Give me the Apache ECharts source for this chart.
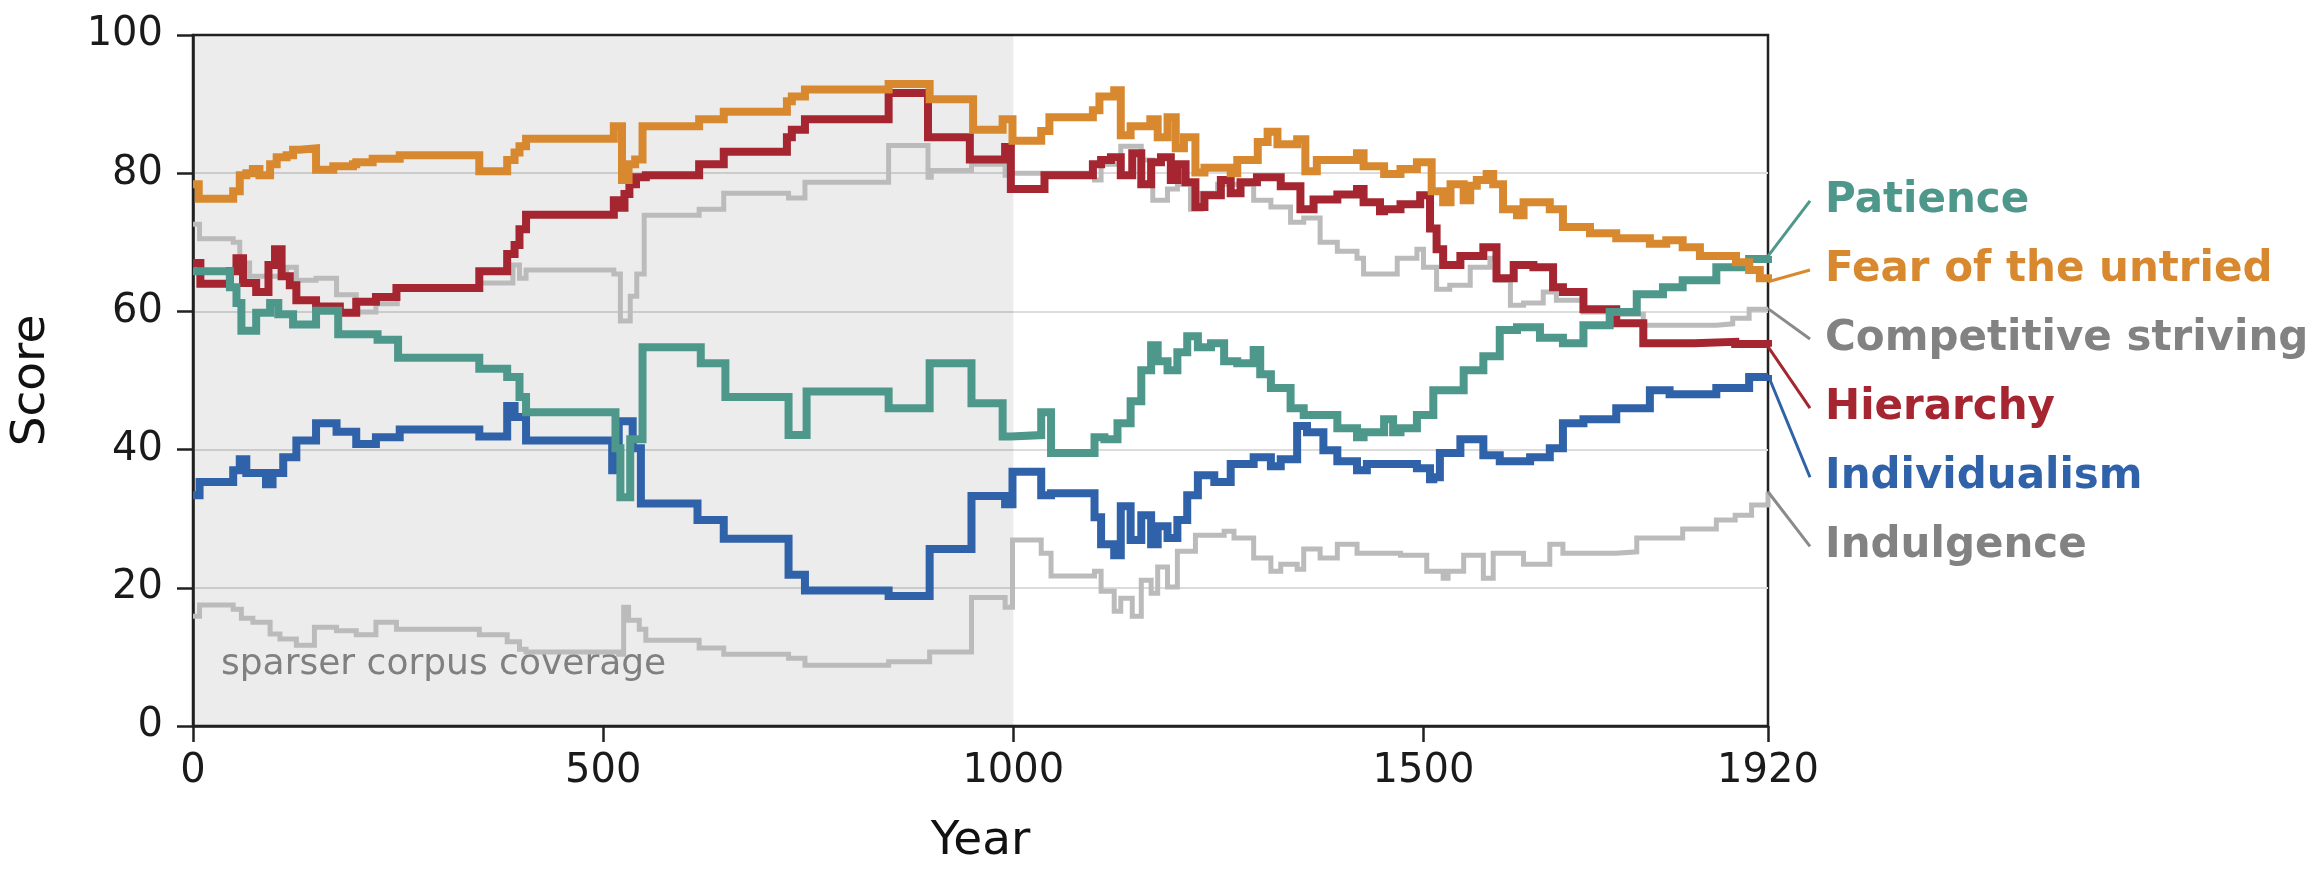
<!DOCTYPE html>
<html>
<head>
<meta charset="utf-8">
<script src="https://cdn.jsdelivr.net/npm/echarts@6.0.0/dist/echarts.min.js"></script>
<style>
  html, body { margin: 0; padding: 0; background: #fff; }
  #chart { width: 2320px; height: 882px; }
</style>
</head>
<body>
<div id="chart"></div>
<script>
// values: [year, score], step held until next point
const fearOfUntried = [
  [0, 78.4], [7, 76.3], [49, 77.4], [57, 79.7], [65, 80], [73, 80.6], [81, 79.7], [94, 81.3],
  [102, 82.3], [114, 82.6], [122, 83.4], [130, 83.6], [150, 80.5], [171, 81], [195, 81.3],
  [199, 81.6], [219, 82.1], [252, 82.6], [349, 80.3], [383, 81.9], [392, 83], [398, 83.9],
  [406, 85], [513, 86.8], [523, 79], [531, 81.3], [539, 82], [548, 86.8], [617, 87.8],
  [647, 88.9], [724, 90.4], [730, 91.1], [746, 92.1], [848, 92.9], [898, 90.7], [951, 86.3],
  [987, 87.8], [999, 84.7], [1034, 86.1], [1044, 88.1], [1097, 89.1], [1105, 91.1],
  [1123, 92], [1131, 85.5], [1143, 86.8], [1167, 87.8], [1176, 85.2], [1188, 88.1],
  [1198, 83.6], [1208, 85.2], [1222, 80.1], [1233, 80.8], [1265, 80], [1273, 81.9],
  [1298, 84.5], [1310, 86], [1322, 84.2], [1346, 84.9], [1356, 80.3], [1370, 81.9],
  [1419, 82.9], [1427, 81], [1452, 79.9], [1472, 80.6], [1492, 81.6], [1510, 77.4],
  [1524, 75.8], [1533, 78.4], [1549, 76.1], [1557, 78.2], [1565, 79], [1577, 79.9],
  [1585, 78.4], [1597, 74.8], [1614, 73.9], [1622, 75.8], [1654, 74.8], [1670, 72.2],
  [1703, 71.3], [1735, 70.6], [1776, 69.8], [1796, 70.3], [1816, 69.3], [1837, 68],
  [1881, 67.1], [1897, 66], [1910, 64.8], [1920, 64.3]
];
const hierarchy = [
  [0, 67], [9, 64], [45, 65.8], [53, 67.7], [61, 64.1], [77, 62.8], [92, 66.7], [100, 69],
  [108, 65.1], [118, 63.8], [126, 61.6], [150, 60.7], [179, 59.8], [199, 61.4], [223, 62.1],
  [248, 63.4], [349, 65.8], [383, 68.3], [392, 69.6], [398, 71.9], [406, 74], [513, 76.1],
  [520, 75], [526, 77], [532, 78.4], [540, 79.4], [552, 79.7], [617, 81.3], [647, 83.1],
  [724, 85.2], [730, 86.3], [746, 87.8], [848, 91.6], [896, 85.2], [947, 82], [990, 83.8],
  [997, 77.7], [1038, 79.7], [1097, 81.3], [1107, 81.9], [1119, 82.3], [1131, 79.7],
  [1145, 82.9], [1156, 78.4], [1168, 81.6], [1180, 82.3], [1192, 79], [1200, 81.3],
  [1210, 78.7], [1222, 75.1], [1233, 76.8], [1253, 79], [1265, 77.1], [1277, 78.7],
  [1297, 79.4], [1326, 78.1], [1350, 74.8], [1366, 76.2], [1395, 76.9], [1419, 77.7],
  [1427, 75.8], [1447, 74.5], [1452, 74.8], [1472, 75.5], [1496, 76.8], [1508, 72],
  [1516, 69], [1524, 66.7], [1545, 68], [1573, 69.3], [1589, 64.8], [1610, 66.7],
  [1634, 66.4], [1658, 63.5], [1670, 62.8], [1695, 60.3], [1735, 58.3], [1768, 55.4],
  [1830, 55.6], [1880, 55.3], [1920, 54.9]
];
const competitiveStriving = [
  [0, 72.6], [8, 70.5], [49, 70], [57, 67], [69, 65.1], [114, 66.4], [126, 64.5], [150, 64.8],
  [175, 62.4], [199, 59.9], [223, 61.1], [249, 63.2], [349, 64.1], [390, 66.7], [398, 64.8],
  [406, 66], [513, 65.4], [521, 58.6], [533, 62.2], [541, 65.4], [550, 73.9], [617, 74.8],
  [647, 77.1], [726, 76.4], [746, 78.7], [848, 84], [896, 79.4], [900, 80.4], [949, 81.3],
  [990, 79.7], [997, 80], [1099, 79], [1107, 81.3], [1131, 83.9], [1156, 81.9], [1170, 76.1],
  [1188, 77.7], [1200, 78.4], [1216, 74.8], [1229, 77.1], [1249, 78.4], [1293, 76.1],
  [1314, 75.1], [1338, 72.9], [1354, 73.5], [1374, 70], [1395, 68.7], [1419, 67.7],
  [1427, 65.4], [1468, 67.7], [1492, 69], [1500, 66.4], [1516, 63.2], [1532, 63.8],
  [1557, 66.4], [1581, 67.7], [1589, 64.5], [1606, 60.9], [1622, 61.2], [1646, 62.8],
  [1662, 61.6], [1695, 59.9], [1735, 59.6], [1768, 58], [1857, 58.2], [1877, 59],
  [1897, 60.3], [1920, 60.4]
];
const patience = [
  [0, 65.8], [45, 63.5], [53, 61.2], [59, 57.2], [77, 59.8], [94, 61.2], [104, 59.6],
  [122, 58.1], [150, 60.1], [177, 56.7], [225, 55.9], [250, 53.3], [349, 51.7], [383, 50.5],
  [398, 47.6], [406, 45.4], [515, 40.2], [521, 33.1], [533, 41.5], [548, 54.8], [619, 52.5],
  [649, 47.6], [726, 42.1], [748, 48.4], [848, 46], [898, 52.5], [949, 46.7], [987, 41.9],
  [997, 42.1], [1034, 45.4], [1046, 39.5], [1099, 41.8], [1111, 41.5], [1127, 43.8],
  [1143, 47], [1156, 51.5], [1168, 55.1], [1176, 52.8], [1188, 51.5], [1200, 54.1],
  [1212, 56.4], [1225, 54.8], [1241, 55.4], [1257, 52.8], [1273, 52.5], [1293, 54.4],
  [1301, 50.9], [1314, 48.9], [1338, 46], [1354, 45], [1395, 43.1], [1419, 41.8],
  [1427, 42.5], [1452, 44.4], [1463, 42.5], [1472, 43.1], [1492, 45], [1512, 48.6],
  [1549, 51.5], [1573, 53.5], [1593, 57.3], [1614, 57.7], [1642, 56.2], [1670, 55.4],
  [1695, 58], [1727, 59.9], [1760, 62.5], [1792, 63.5], [1816, 64.5], [1857, 66.4],
  [1897, 67.6], [1920, 68]
];
const individualism = [
  [0, 33.4], [8, 35.3], [49, 37], [57, 38.6], [65, 36.6], [89, 35], [97, 36.6], [110, 38.9],
  [126, 41.3], [150, 43.8], [175, 42.6], [199, 40.8], [223, 41.8], [252, 42.9], [349, 41.9],
  [383, 46.3], [392, 44.7], [406, 41.3], [511, 37], [519, 44.1], [536, 40.2], [546, 32.2],
  [615, 29.8], [647, 27.1], [726, 21.9], [746, 19.6], [848, 18.8], [898, 25.6], [949, 33.3],
  [990, 32.1], [999, 36.8], [1034, 33.4], [1046, 33.7], [1099, 30.2], [1107, 26.3],
  [1123, 24.7], [1131, 31.8], [1143, 26.9], [1156, 30.5], [1168, 26.3], [1176, 28.9],
  [1188, 27.2], [1200, 29.8], [1212, 33.4], [1225, 36.3], [1245, 35.3], [1265, 37.9],
  [1293, 38.9], [1314, 37.6], [1326, 38.6], [1346, 43.4], [1358, 42.5], [1378, 39.9],
  [1395, 38.3], [1419, 37], [1431, 37.9], [1492, 37.3], [1508, 35.7], [1512, 36],
  [1520, 39.5], [1545, 41.5], [1573, 39.2], [1593, 38.3], [1630, 38.9], [1654, 40.2],
  [1670, 43.8], [1695, 44.4], [1735, 46], [1776, 48.6], [1800, 48], [1857, 48.9],
  [1897, 50.5], [1920, 50.8]
];
const indulgence = [
  [0, 15.9], [8, 17.5], [49, 16.9], [59, 15.6], [73, 15], [94, 13.3], [106, 12.6], [126, 11.7],
  [148, 14.3], [175, 13.8], [199, 13.2], [223, 15], [248, 14], [349, 13.2], [383, 12.2],
  [398, 11.1], [406, 10.7], [519, 10.4], [525, 17.2], [531, 15.3], [544, 14], [552, 12.4],
  [617, 11.3], [647, 10.4], [726, 9.8], [746, 8.8], [848, 9.3], [898, 10.7], [949, 18.6],
  [990, 17.2], [999, 26.9], [1034, 25], [1046, 21.7], [1099, 22.4], [1107, 19.5],
  [1123, 16.6], [1131, 18.5], [1145, 15.9], [1156, 21.1], [1168, 19.2], [1176, 23],
  [1188, 20.1], [1200, 25.3], [1222, 27.6], [1257, 28.2], [1269, 27.2], [1293, 24.3],
  [1314, 22.4], [1326, 23.4], [1346, 22.7], [1354, 25.6], [1374, 24.3], [1395, 26.3],
  [1419, 25], [1472, 24.7], [1504, 22.4], [1524, 21.4], [1530, 22.4], [1549, 24.7],
  [1573, 21.4], [1585, 25], [1622, 23.4], [1654, 26.3], [1670, 25], [1735, 25.2],
  [1760, 27.2], [1816, 28.5], [1857, 29.8], [1880, 30.5], [1900, 32], [1920, 33.9]
];

const xTicks = [0, 500, 1000, 1500, 1920];
const sparseRange = [0, 1000];

// label order on the right, top to bottom
const labelNames = ['Patience', 'Fear of the untried', 'Competitive striving', 'Hierarchy', 'Individualism', 'Indulgence'];
const labelSeries = [patience, fearOfUntried, competitiveStriving, hierarchy, individualism, indulgence];

const TEAL = '#4e978b', ORANGE = '#d8892f', RED = '#a52530', BLUE = '#2f62a8';
const GREY_LINE = '#bbbbbb', GREY_TEXT = '#828282';
const labelText = [TEAL, ORANGE, GREY_TEXT, RED, BLUE, GREY_TEXT];
const labelTop = 76.0, labelStep = 10;
const FONT = '"DejaVu Sans", sans-serif';

const chart = echarts.init(document.getElementById('chart'));

function stepLine(name, data, color, width, z) {
  return {
    name, type: 'line', data, step: 'end', showSymbol: false, symbol: 'none', z,
    lineStyle: { color, width, join: 'miter' }, animation: false
  };
}

const endLabels = labelSeries.map((s, i) => {
  const last = s[s.length - 1];
  return [last[0], last[1], labelTop - i * labelStep, i];
});

chart.setOption({
  animation: false,
  textStyle: { fontFamily: FONT },
  grid: {
    left: 191, right: 552, top: 35, bottom: 156,
    show: true, borderColor: '#222', borderWidth: 2.5
  },
  xAxis: {
    type: 'value', min: 0, max: 1920,
    name: 'Year', nameLocation: 'middle', nameGap: 92,
    nameTextStyle: { fontSize: 47, color: '#111', fontFamily: FONT },
    axisLine: { show: true, lineStyle: { color: '#222', width: 2.5 } },
    axisTick: { show: true, length: 16, lineStyle: { color: '#222', width: 2.5 }, customValues: xTicks },
    axisLabel: {
      fontSize: 40, color: '#1a1a1a', margin: 26, customValues: xTicks, fontFamily: FONT,
      formatter: (v) => String(v)
    },
    splitLine: { show: false }
  },
  yAxis: {
    type: 'value', min: 0, max: 100, interval: 20,
    name: 'Score', nameLocation: 'middle', nameGap: 138, nameRotate: 90,
    nameTextStyle: { fontSize: 47, color: '#111', fontFamily: FONT },
    axisLine: { show: true, lineStyle: { color: '#222', width: 2.5 } },
    axisTick: { show: true, length: 16, lineStyle: { color: '#222', width: 2.5 } },
    axisLabel: { fontSize: 40, color: '#1a1a1a', margin: 30, fontFamily: FONT },
    splitLine: { show: true, showMinLine: false, showMaxLine: false, lineStyle: { color: '#dcdcdc', width: 2 } }
  },
  series: [
    {
      type: 'line', data: [], z: 1, silent: true,
      markArea: {
        silent: true,
        itemStyle: { color: 'rgba(0,0,0,0.075)' },
        label: {
          show: true, position: [28, 612], color: '#808080', fontSize: 36, fontFamily: FONT
        },
        data: [[{ xAxis: sparseRange[0], name: 'sparser corpus coverage' }, { xAxis: sparseRange[1] }]]
      }
    },
    stepLine('Indulgence', indulgence, GREY_LINE, 5, 2),
    stepLine('Competitive striving', competitiveStriving, GREY_LINE, 5, 2),
    stepLine('Individualism', individualism, BLUE, 8, 3),
    stepLine('Hierarchy', hierarchy, RED, 8, 3),
    stepLine('Patience', patience, TEAL, 8, 3),
    stepLine('Fear of the untried', fearOfUntried, ORANGE, 8, 3),
    {
      type: 'custom', z: 4, silent: true, clip: false,
      encode: { x: 0, y: 1 },
      data: endLabels,
      renderItem(params, api) {
        const end = api.coord([api.value(0), api.value(1)]);
        const slotY = api.coord([api.value(0), api.value(2)])[1];
        const i = api.value(3);
        const lead = labelText[i] === GREY_TEXT ? '#8a8a8a' : labelText[i];
        return {
          type: 'group',
          children: [
            {
              type: 'line',
              shape: { x1: end[0], y1: end[1], x2: end[0] + 42, y2: slotY },
              style: { stroke: lead, lineWidth: 3 }
            },
            {
              type: 'text', x: end[0] + 57, y: slotY,
              style: {
                text: labelNames[i], fill: labelText[i],
                font: 'bold 42px ' + FONT, verticalAlign: 'middle', align: 'left'
              }
            }
          ]
        };
      }
    }
  ]
});
</script>
</body>
</html>
